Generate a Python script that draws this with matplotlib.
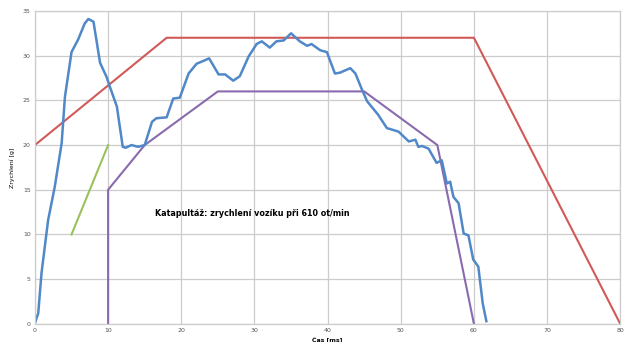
import matplotlib
matplotlib.use('Agg')
import matplotlib.pyplot as plt

# namerena krivka (modra)
cas = [0, 0.45, 0.9, 1.8, 2.7, 3.65, 4.1, 5.0, 5.9, 6.8, 7.3, 8.0, 8.9, 9.8, 10.25,
       11.2, 12.0, 12.4, 13.2, 14.1, 15.0, 16.0, 16.6, 18.0, 18.9, 19.8, 21.0, 22.1,
       23.0, 23.8, 25.1, 26.0, 27.1, 28.0, 29.2, 30.3, 31.0, 32.1, 33.0, 34.0, 35.0,
       36.2, 37.2, 37.8, 39.0, 39.9, 41.0, 41.7, 43.1, 43.8, 44.7, 45.4, 46.9, 48.1,
       49.7, 51.1, 52.0, 52.4, 52.9, 53.8, 54.9, 55.6, 56.3, 56.75, 57.2, 57.9, 58.6,
       59.25, 59.9, 60.6, 61.2, 61.7]
zrychleni = [0.1, 1.2, 5.7, 11.6, 15.3, 20.2, 25.4, 30.4, 31.8, 33.6, 34.1, 33.8, 29.2,
             27.6, 26.5, 24.3, 19.8, 19.7, 20.0, 19.8, 20.0, 22.6, 23.0, 23.1, 25.2, 25.3,
             28.0, 29.1, 29.4, 29.7, 27.9, 27.9, 27.2, 27.7, 29.9, 31.3, 31.6, 30.9, 31.6,
             31.7, 32.5, 31.6, 31.1, 31.3, 30.6, 30.4, 28.0, 28.1, 28.6, 28.0, 26.2, 24.9,
             23.4, 21.9, 21.5, 20.4, 20.6, 19.8, 19.9, 19.6, 18.0, 18.3, 15.7, 15.9, 14.2,
             13.5, 10.1, 9.9, 7.2, 6.4, 2.3, 0.3]

# meze (cervena, zelena, fialova)
horni_x = [0, 18, 60, 80]
horni_y = [20, 32, 32, 0]
zelena_x = [5, 10]
zelena_y = [10, 20]
dolni_x = [10, 10, 15, 25, 45, 55, 60]
dolni_y = [0, 15, 20, 26, 26, 20, 0]

fig = plt.figure(figsize=(6.24, 3.42), dpi=100)
ax = fig.add_axes([0.056, 0.053, 0.938, 0.915])

ax.plot(horni_x, horni_y, color='#D05A57', lw=1.5)
ax.plot(zelena_x, zelena_y, color='#9BC25A', lw=1.5)
ax.plot(dolni_x, dolni_y, color='#8A6AAE', lw=1.5)
ax.plot(cas, zrychleni, color='#5088C8', lw=1.8, solid_joinstyle='round')

ax.set_xlim(0, 80)
ax.set_ylim(0, 35)
ax.set_xticks(range(0, 81, 10))
ax.set_yticks(range(0, 36, 5))
ax.grid(True, color='#cccccc', lw=0.9)
ax.set_axisbelow(True)
ax.tick_params(length=0, labelsize=4.5, labelcolor='#555555', pad=3)
for s in ax.spines.values():
    s.set_color('#cccccc')
    s.set_linewidth(0.9)

ax.set_xlabel('Čas [ms]', fontsize=4.5, fontweight='bold', labelpad=2)
ax.set_ylabel('Zrychlení [g]', fontsize=4.5, labelpad=6)

ax.text(16.4, 12.3, 'Katapultáž: zrychlení vozíku při 610 ot/min',
        fontsize=5.8, fontweight='bold', va='center', ha='left')

fig.savefig('out.png', dpi=100)
